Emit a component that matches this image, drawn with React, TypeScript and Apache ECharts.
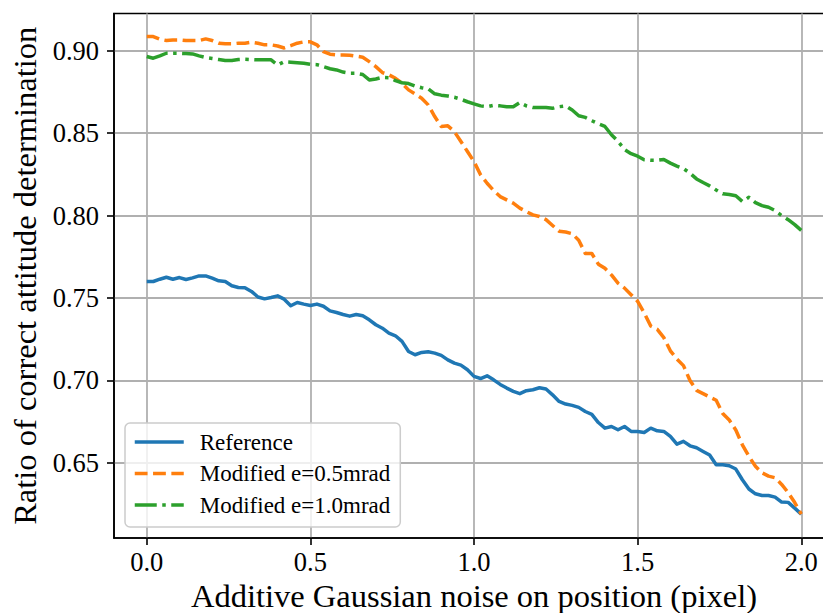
import React, { useEffect, useRef } from "react";
import * as echarts from "echarts";

const noise = [
  0.0, 0.02, 0.04, 0.06, 0.08, 0.1, 0.12, 0.14, 0.16, 0.18, 0.2, 0.22, 0.24, 0.26, 0.28, 0.3, 0.32, 0.34, 0.36, 0.38,
  0.4, 0.42, 0.44, 0.46, 0.48, 0.5, 0.52, 0.54, 0.56, 0.58, 0.6, 0.62, 0.64, 0.66, 0.68, 0.7, 0.72, 0.74, 0.76, 0.78,
  0.8, 0.82, 0.84, 0.86, 0.88, 0.9, 0.92, 0.94, 0.96, 0.98, 1.0, 1.02, 1.04, 1.06, 1.08, 1.1, 1.12, 1.14, 1.16, 1.18,
  1.2, 1.22, 1.24, 1.26, 1.28, 1.3, 1.32, 1.34, 1.36, 1.38, 1.4, 1.42, 1.44, 1.46, 1.48, 1.5, 1.52, 1.54, 1.56, 1.58,
  1.6, 1.62, 1.64, 1.66, 1.68, 1.7, 1.72, 1.74, 1.76, 1.78, 1.8, 1.82, 1.84, 1.86, 1.88, 1.9, 1.92, 1.94, 1.96, 1.98,
  2.0,
];

const reference = [
  0.76, 0.76, 0.7614, 0.7626, 0.7614, 0.7624, 0.7612, 0.7622, 0.7634, 0.7634, 0.762, 0.7604, 0.76, 0.7574, 0.7564,
  0.7562, 0.754, 0.7506, 0.7495, 0.7503, 0.7513, 0.7493, 0.7453, 0.7473, 0.7463, 0.7455, 0.7463, 0.745, 0.7422,
  0.7412, 0.74, 0.739, 0.74, 0.7392, 0.7368, 0.7338, 0.7317, 0.7287, 0.7271, 0.7237, 0.7176, 0.7156, 0.717, 0.7174,
  0.7166, 0.7152, 0.7125, 0.7105, 0.7093, 0.7065, 0.7025, 0.7012, 0.7028, 0.7004, 0.6976, 0.6954, 0.6934, 0.692,
  0.6938, 0.6944, 0.6956, 0.6948, 0.6913, 0.6873, 0.6857, 0.6849, 0.6837, 0.6812, 0.6795, 0.6745, 0.6711, 0.6721,
  0.6701, 0.6721, 0.6691, 0.6691, 0.6685, 0.6711, 0.6695, 0.6691, 0.6661, 0.6614, 0.6631, 0.6604, 0.6592, 0.657,
  0.6548, 0.6489, 0.6489, 0.6483, 0.6463, 0.6398, 0.6342, 0.6313, 0.6303, 0.6303, 0.6293, 0.6263, 0.6261, 0.6226,
  0.619,
];

const modified05 = [
  0.9085, 0.9085, 0.9069, 0.9061, 0.9065, 0.9065, 0.9061, 0.9061, 0.9061, 0.9071, 0.9061, 0.9045, 0.9041, 0.9041,
  0.9045, 0.9045, 0.9051, 0.9045, 0.9035, 0.9035, 0.9028, 0.9016, 0.903, 0.9045, 0.9053, 0.9053, 0.9035, 0.8994,
  0.8978, 0.8974, 0.8974, 0.8972, 0.8966, 0.896, 0.8933, 0.8903, 0.8867, 0.8853, 0.8832, 0.8802, 0.8762, 0.8737,
  0.8711, 0.8671, 0.86, 0.854, 0.8544, 0.8509, 0.8449, 0.8388, 0.8327, 0.8247, 0.8196, 0.8152, 0.8115, 0.8095,
  0.8075, 0.8045, 0.8024, 0.8004, 0.7994, 0.7975, 0.794, 0.7905, 0.79, 0.789, 0.785, 0.777, 0.777, 0.7705, 0.768,
  0.764, 0.759, 0.756, 0.752, 0.748, 0.741, 0.733, 0.731, 0.726, 0.718, 0.713, 0.709, 0.7, 0.694, 0.692, 0.69,
  0.688, 0.68, 0.676, 0.67, 0.661, 0.654, 0.648, 0.644, 0.642, 0.641, 0.637, 0.632, 0.626, 0.619,
];

const modified10 = [
  0.8964, 0.8954, 0.8968, 0.8984, 0.8984, 0.8984, 0.8982, 0.898, 0.8968, 0.8958, 0.8952, 0.8946, 0.894, 0.894,
  0.8946, 0.8948, 0.8946, 0.8944, 0.8944, 0.8944, 0.8913, 0.8933, 0.893, 0.8927, 0.8923, 0.8917, 0.8915, 0.8903,
  0.889, 0.8883, 0.887, 0.8863, 0.8863, 0.8855, 0.8822, 0.8828, 0.8838, 0.8836, 0.8818, 0.8805, 0.88, 0.8785,
  0.8775, 0.8768, 0.8738, 0.873, 0.8725, 0.8717, 0.8705, 0.869, 0.8677, 0.8665, 0.866, 0.8668, 0.8665, 0.866,
  0.866, 0.8685, 0.8665, 0.8655, 0.8655, 0.8655, 0.865, 0.866, 0.8665, 0.864, 0.8605, 0.8595, 0.8575, 0.8556,
  0.854, 0.849, 0.845, 0.84, 0.8375, 0.836, 0.8338, 0.8335, 0.8335, 0.834, 0.8318, 0.83, 0.8285, 0.8257, 0.8222,
  0.82, 0.818, 0.8155, 0.8132, 0.8128, 0.812, 0.8085, 0.8111, 0.8078, 0.806, 0.805, 0.803, 0.8, 0.7975, 0.7945,
  0.791,
];

const seriesNames = ["Reference", "Modified e=0.5mrad", "Modified e=1.0mrad"];
const xTicks = [0, 0.5, 1.0, 1.5, 2.0];
const yTicks = [0.65, 0.7, 0.75, 0.8, 0.85, 0.9];

const FONT = "'Liberation Serif', 'Times New Roman', serif";

export default function App() {
  const ref = useRef<HTMLDivElement>(null);

  useEffect(() => {
    if (!ref.current) return;
    const chart = echarts.init(ref.current, undefined, { renderer: "svg" });
    const pair = (ys: number[]) => noise.map((x, i) => [x, ys[i]]);
    const colors = ["#1f77b4", "#ff7f0e", "#2ca02c"];
    const types: any[] = ["solid", [12.8, 5.5], [22, 5.5, 3.5, 5.5]];
    const datasets = [reference, modified05, modified10];

    chart.setOption({
      animation: false,
      backgroundColor: "#ffffff",
      textStyle: { fontFamily: FONT },
      grid: {
        left: 114,
        top: 13.5,
        width: 720,
        height: 524.5,
        show: true,
        borderColor: "#000000",
        borderWidth: 1.6,
        backgroundColor: "transparent",
        containLabel: false,
        outerBoundsMode: "none",
      },
      xAxis: {
        type: "value",
        min: -0.1,
        max: 2.1,
        name: "Additive Gaussian noise on position (pixel)",
        nameLocation: "middle",
        nameGap: 40,
        nameTextStyle: { fontFamily: FONT, fontSize: 32.5, color: "#000" },
        axisLine: { show: true, onZero: false, lineStyle: { color: "#000", width: 1.6 } },
        axisTick: { show: true, inside: false, length: 7, customValues: xTicks, lineStyle: { color: "#000", width: 1.6 } },
        axisLabel: {
          customValues: xTicks,
          margin: 10,
          fontFamily: FONT,
          fontSize: 26.5,
          color: "#000",
          formatter: (v: number) => v.toFixed(1),
        },
        splitLine: { show: true, lineStyle: { color: "#b0b0b0", width: 1.8 } },
      },
      yAxis: {
        type: "value",
        min: 0.6045,
        max: 0.9225,
        name: "Ratio of correct attitude determination",
        nameLocation: "middle",
        nameGap: 70,
        nameTextStyle: { fontFamily: FONT, fontSize: 32.5, color: "#000" },
        axisLine: { show: true, onZero: false, lineStyle: { color: "#000", width: 1.6 } },
        axisTick: { show: true, inside: false, length: 7, customValues: yTicks, lineStyle: { color: "#000", width: 1.6 } },
        axisLabel: {
          customValues: yTicks,
          margin: 15,
          fontFamily: FONT,
          fontSize: 26.5,
          color: "#000",
          formatter: (v: number) => v.toFixed(2),
        },
        splitLine: { show: true, lineStyle: { color: "#b0b0b0", width: 1.8 } },
      },
      legend: {
        show: true,
        orient: "vertical",
        left: 125,
        top: 423,
        padding: [7.5, 10, 10.5, 8],
        itemWidth: 49,
        itemHeight: 14,
        itemGap: 8.5,
        backgroundColor: "rgba(255,255,255,0.8)",
        borderColor: "#cccccc",
        borderWidth: 1.5,
        borderRadius: 5,
        itemStyle: { opacity: 0, borderWidth: 0 },
        lineStyle: { width: 3.5 },
        textStyle: { fontFamily: FONT, fontSize: 23, lineHeight: 23, color: "#000", padding: [0, 0, 0, 11] },
        data: seriesNames,
      },
      series: datasets.map((ys, i) => ({
        name: seriesNames[i],
        type: "line",
        data: pair(ys),
        symbol: "none",
        showSymbol: false,
        smooth: false,
        color: colors[i],
        lineStyle: { color: colors[i], width: 3.5, type: types[i], join: "round", cap: "butt" },
        itemStyle: { color: colors[i] },
        z: 2 + i,
      })),
    });

    return () => chart.dispose();
  }, []);

  return (
    <div
      ref={ref}
      style={{ position: "fixed", left: 0, top: 0, width: 823, height: 613, overflow: "hidden", background: "#fff" }}
    />
  );
}
